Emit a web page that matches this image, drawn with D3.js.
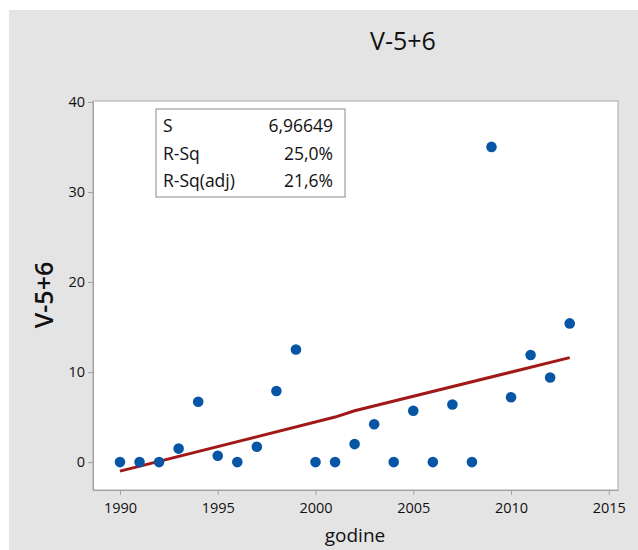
<!DOCTYPE html>
<html><head><meta charset="utf-8">
<script src="https://cdn.jsdelivr.net/npm/d3@7"></script>
<style>html,body{margin:0;padding:0;background:#fff;}svg{display:block;font-family:"Open Sans","Noto Sans",sans-serif;}</style>
</head><body><svg id="c" width="638" height="550"></svg>
<script>
const years = [1990,1991,1992,1993,1994,1995,1996,1997,1998,1999,2000,2001,2002,2003,2004,2005,2006,2007,2008,2009,2010,2011,2012,2013];
const values = [0,0,0,1.5,6.7,0.7,0,1.7,7.9,12.5,0,0,2.0,4.2,0,5.7,0,6.4,0,35,7.2,11.9,9.4,15.4];
const fitYears = [1990,2001,2002,2013];
const fitValues = [-1.0,5.0,5.7,11.6];
const xTicks = [1990,1995,2000,2005,2010,2015];
const yTicks = [0,10,20,30,40];
const statLabels = ["S","R-Sq","R-Sq(adj)"];
const statValues = ["6,96649","25,0%","21,6%"];

const svg = d3.select("#c");
svg.append("rect").attr("x",9).attr("y",10).attr("width",629).attr("height",540).attr("fill","#e4e4e4");

const L=93,R=618,T=101,B=490;
const x = d3.scaleLinear().domain([1988.62,2015.47]).range([L,R]);
const y = d3.scaleLinear().domain([-3.1,40.1]).range([B,T]);

svg.append("rect").attr("x",L).attr("y",T).attr("width",R-L).attr("height",B-T)
  .attr("fill","#fff").attr("stroke","#a8a8a8").attr("stroke-width",1);

const xAxis = svg.append("g").attr("transform",`translate(0,${B})`)
  .call(d3.axisBottom(x).tickValues(xTicks).tickFormat(d3.format("d")).tickSize(5).tickSizeOuter(0));
const yAxis = svg.append("g").attr("transform",`translate(${L},0)`)
  .call(d3.axisLeft(y).tickValues(yTicks).tickSize(5).tickSizeOuter(0));
[xAxis,yAxis].forEach(g=>{
  g.select(".domain").attr("stroke","#a0a0a0");
  g.selectAll(".tick line").attr("stroke","#a0a0a0");
  g.selectAll("text").attr("fill","#111").style("font-size","14.5px").style("font-family","'Open Sans',sans-serif");
});
xAxis.selectAll("text").attr("dy","1.0em");
yAxis.selectAll("text").attr("x",-8);

// fit line
svg.append("path").datum(fitYears.map((d,i)=>[d,fitValues[i]]))
  .attr("d",d3.line().x(d=>x(d[0])).y(d=>y(d[1])))
  .attr("fill","none").attr("stroke","#a01818").attr("stroke-width",3);

// points
svg.append("g").selectAll("circle").data(years.map((d,i)=>[d,values[i]])).join("circle")
  .attr("cx",d=>x(d[0])).attr("cy",d=>y(d[1])).attr("r",5.3).attr("fill","#0755a5");

// stats box
const bx=156,by=109,bw=189,bh=88;
svg.append("rect").attr("x",bx).attr("y",by).attr("width",bw).attr("height",bh)
  .attr("fill","#fff").attr("stroke","#8a8a8a").attr("stroke-width",1);
statLabels.forEach((s,i)=>{
  svg.append("text").attr("x",bx+7).attr("y",by+23+i*27.5).text(s)
    .style("font-size","17.5px").attr("fill","#111");
  svg.append("text").attr("x",bx+bw-12).attr("y",by+23+i*27.5).attr("text-anchor","end").text(statValues[i])
    .style("font-size","17.5px").attr("fill","#111");
});

// titles
svg.append("text").attr("x",403).attr("y",50).attr("text-anchor","middle").text("V-5+6")
  .style("font-size","25px").style("font-weight","500").attr("fill","#111");
svg.append("text").attr("x",355).attr("y",542).attr("text-anchor","middle").text("godine")
  .style("font-size","19px").attr("fill","#111");
svg.append("text").attr("transform","translate(53,295) rotate(-90)").attr("text-anchor","middle").text("V-5+6")
  .style("font-size","25px").style("font-weight","600").attr("fill","#111");
</script></body></html>
